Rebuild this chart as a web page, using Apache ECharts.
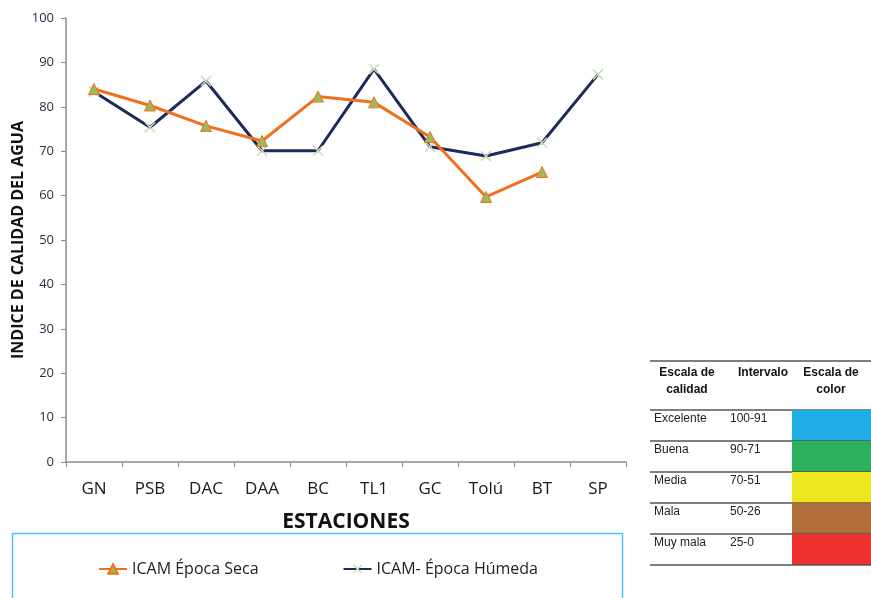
<!DOCTYPE html>
<html>
<head>
<meta charset="utf-8">
<script src="https://cdn.jsdelivr.net/npm/echarts@6/dist/echarts.min.js"></script>
<style>
  html, body { margin: 0; padding: 0; background: #fff; }
  #chart { width: 871px; height: 598px; }
</style>
</head>
<body>
<div id="chart"></div>
<script>
var estaciones = ["GN", "PSB", "DAC", "DAA", "BC", "TL1", "GC", "Tolú", "BT", "SP"];
var icamSeca = [84.0, 80.3, 75.7, 72.3, 82.3, 81.0, 73.2, 59.7, 65.3, null];
var icamHumeda = [83.4, 75.4, 85.8, 70.1, 70.1, 88.5, 71.0, 68.9, 71.9, 87.3];
var yTicks = [0, 10, 20, 30, 40, 50, 60, 70, 80, 90, 100];

// tabla de escala
var escalaCalidad = ["Excelente", "Buena", "Media", "Mala", "Muy mala"];
var escalaIntervalo = ["100-91", "90-71", "70-51", "50-26", "25-0"];
var escalaColor = ["#1fabe3", "#2bb15b", "#ece71f", "#b06c39", "#ee3130"];

var font = "'Liberation Sans Narrow', 'Open Sans', sans-serif";
var tblFont = "'Liberation Sans', Arial, sans-serif";

function tabla() {
  var els = [];
  var x0 = 650, x1 = 871, top = 361, hdr = 410, rowH = 31;
  els.push({ type: "line", shape: { x1: x0, y1: top, x2: x1, y2: top }, style: { stroke: "#555", lineWidth: 1.5 } });
  els.push({ type: "line", shape: { x1: x0, y1: hdr, x2: x1, y2: hdr }, style: { stroke: "#555", lineWidth: 1.5 } });
  var hs = { fontFamily: tblFont, fontWeight: "bold", fontSize: 12, fill: "#111", textAlign: "center", lineHeight: 17 };
  els.push({ type: "text", x: 687, y: 364, style: Object.assign({ text: "Escala de\ncalidad" }, hs) });
  els.push({ type: "text", x: 763, y: 364, style: Object.assign({ text: "Intervalo" }, hs) });
  els.push({ type: "text", x: 831, y: 364, style: Object.assign({ text: "Escala de\ncolor" }, hs) });
  for (var i = 0; i < escalaCalidad.length; i++) {
    var y = hdr + i * rowH;
    els.push({ type: "rect", shape: { x: 792, y: y, width: x1 - 792, height: rowH }, style: { fill: escalaColor[i] } });
    els.push({ type: "text", x: 654, y: y + 3, style: { text: escalaCalidad[i], fontFamily: tblFont, fontSize: 12, fill: "#222" } });
    els.push({ type: "text", x: 730, y: y + 3, style: { text: escalaIntervalo[i], fontFamily: tblFont, fontSize: 12, fill: "#222" } });
    els.push({ type: "line", shape: { x1: x0, y1: y + rowH, x2: x1, y2: y + rowH }, style: { stroke: "#555", lineWidth: 1.5 } });
  }
  return els;
}

var chart = echarts.init(document.getElementById("chart"));
var option = {
  animation: false,
  backgroundColor: "#fff",
  grid: { left: 66, top: 18, width: 560, height: 444, outerBoundsMode: "none" },
  legend: {
    left: 93,
    top: 556,
    itemGap: 84,
    itemWidth: 28,
    itemHeight: 12,
    textStyle: { fontFamily: font, fontSize: 16, color: "#222" },
    data: ["ICAM Época Seca", "ICAM- Época Húmeda"]
  },
  xAxis: {
    type: "category",
    data: estaciones,
    boundaryGap: true,
    name: "ESTACIONES",
    nameLocation: "middle",
    nameGap: 50,
    nameMoveOverlap: false,
    nameTextStyle: { fontFamily: font, fontSize: 21, fontWeight: "bold", color: "#111" },
    axisLine: { lineStyle: { color: "#8a8a8a", width: 1.5 } },
    axisTick: { show: true, length: 5, lineStyle: { color: "#8a8a8a" } },
    axisLabel: { margin: 19, fontFamily: font, fontSize: 17, color: "#1a1a1a" }
  },
  yAxis: {
    type: "value",
    min: 0,
    max: 100,
    interval: 10,
    name: "INDICE DE CALIDAD DEL AGUA",
    nameLocation: "middle",
    nameGap: 40,
    nameMoveOverlap: false,
    nameTextStyle: { fontFamily: font, fontSize: 16, fontWeight: "bold", color: "#111" },
    axisLine: { show: true, lineStyle: { color: "#8a8a8a", width: 1.5 } },
    axisTick: { show: true, length: 5, lineStyle: { color: "#8a8a8a" } },
    splitLine: { show: false },
    axisLabel: {
      margin: 12, fontFamily: font, fontSize: 13, color: "#243247",
      formatter: function (v) { return yTicks.indexOf(v) >= 0 ? String(v) : ""; }
    }
  },
  series: [
    {
      name: "ICAM Época Seca",
      type: "line",
      data: icamSeca,
      connectNulls: false,
      lineStyle: { color: "#f07020", width: 3 },
      itemStyle: { color: "#9bbb59", borderColor: "#f07020", borderWidth: 1 },
      symbol: "triangle",
      symbolSize: 11,
      z: 3
    },
    {
      name: "ICAM- Época Húmeda",
      type: "line",
      data: icamHumeda,
      lineStyle: { color: "#1c2b5c", width: 3 },
      itemStyle: { color: "#c9dcb5" },
      symbol: "path://M0,1 L1,0 L5,4 L9,0 L10,1 L6,5 L10,9 L9,10 L5,6 L1,10 L0,9 L4,5 Z",
      symbolSize: 11,
      z: 2
    }
  ],
  graphic: [
    { type: "rect", shape: { x: 12.5, y: 533.5, width: 610, height: 80 }, style: { fill: "none", stroke: "#4fc3f2", lineWidth: 1.5 } }
  ].concat(tabla())
};
chart.setOption(option);
</script>
</body>
</html>
